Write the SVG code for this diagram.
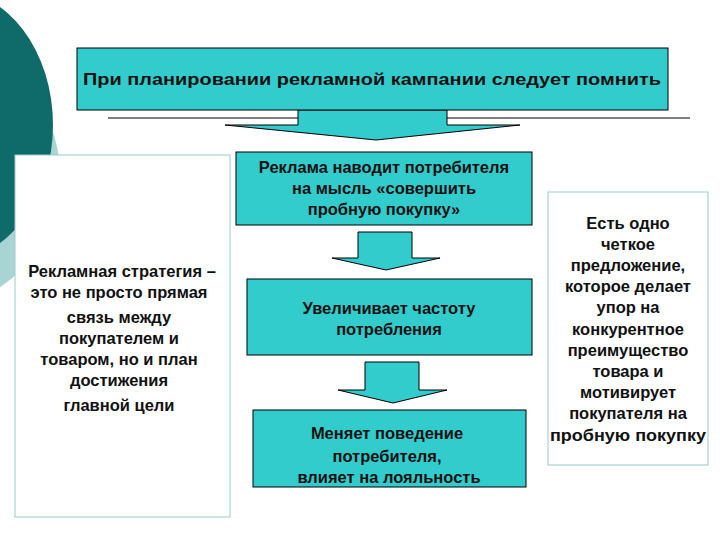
<svg xmlns="http://www.w3.org/2000/svg" width="720" height="540" viewBox="0 0 720 540">
<style>
.b{fill:#33CCCC;stroke:#000;stroke-width:1}
.a{fill:#33CCCC;stroke:#000;stroke-width:1}
.w{fill:#fff;stroke:#9CC9C9;stroke-width:1}
text{font-family:"Liberation Sans",Arial,sans-serif;font-size:16.5px;font-weight:bold;fill:#111;text-anchor:middle}
</style>
<rect width="720" height="540" fill="#fff"/>
<circle cx="-75" cy="175" r="135" fill="#A8D4D4"/>
<ellipse cx="-50" cy="125" rx="103" ry="135" fill="#0F6B69"/>
<g id="connectors">
<line x1="108" y1="118" x2="690" y2="118" stroke="#000"/>
<path class="a" d="M298,110 H447 V125 H520 L376,140 L225,125 H298 Z"/>
<path class="a" d="M358,232 H412 V258 H440 L386,270 L332,258 H358 Z"/>
<path class="a" d="M365,362 H419 V390 H447 L393,403 L338,390 H365 Z"/>
</g>
<g id="top"><rect class="b" x="77" y="48" width="591" height="62"/>
<text x="372" y="85" textLength="578" lengthAdjust="spacingAndGlyphs">При планировании рекламной кампании следует помнить</text></g>
<g id="left"><rect class="w" x="15" y="155" width="215" height="362"/>
<text x="122" y="277">Рекламная стратегия –</text><text x="119" y="298">это не просто прямая</text><text x="119" y="323">связь между</text><text x="119" y="344">покупателем и</text><text x="119" y="365">товаром, но и план</text><text x="119" y="386">достижения</text><text x="119" y="411">главной цели</text></g>
<g id="n1"><rect class="b" x="236" y="152" width="296" height="73"/>
<text x="384" y="173">Реклама наводит потребителя</text><text x="384" y="194">на мысль «совершить</text><text x="384" y="215">пробную покупку»</text></g>
<g id="n2"><rect class="b" x="247" y="279" width="285" height="76"/>
<text x="389" y="314">Увеличивает частоту</text><text x="389" y="335">потребления</text></g>
<g id="n3"><rect class="b" x="253" y="410" width="273" height="77"/>
<text x="387" y="439">Меняет поведение</text><text x="387" y="462">потребителя,</text><text x="389" y="483">влияет на лояльность</text></g>
<g id="right"><rect class="w" x="548" y="192" width="160" height="273"/>
<text x="628" y="229">Есть одно</text><text x="628" y="250">четкое</text><text x="628" y="271">предложение,</text><text x="628" y="292">которое делает</text><text x="628" y="313">упор на</text><text x="628" y="335">конкурентное</text><text x="628" y="356">преимущество</text><text x="628" y="377">товара и</text><text x="628" y="398">мотивирует</text><text x="628" y="419">покупателя на</text><text x="628" y="441" textLength="156" lengthAdjust="spacingAndGlyphs">пробную покупку</text></g>
</svg>
